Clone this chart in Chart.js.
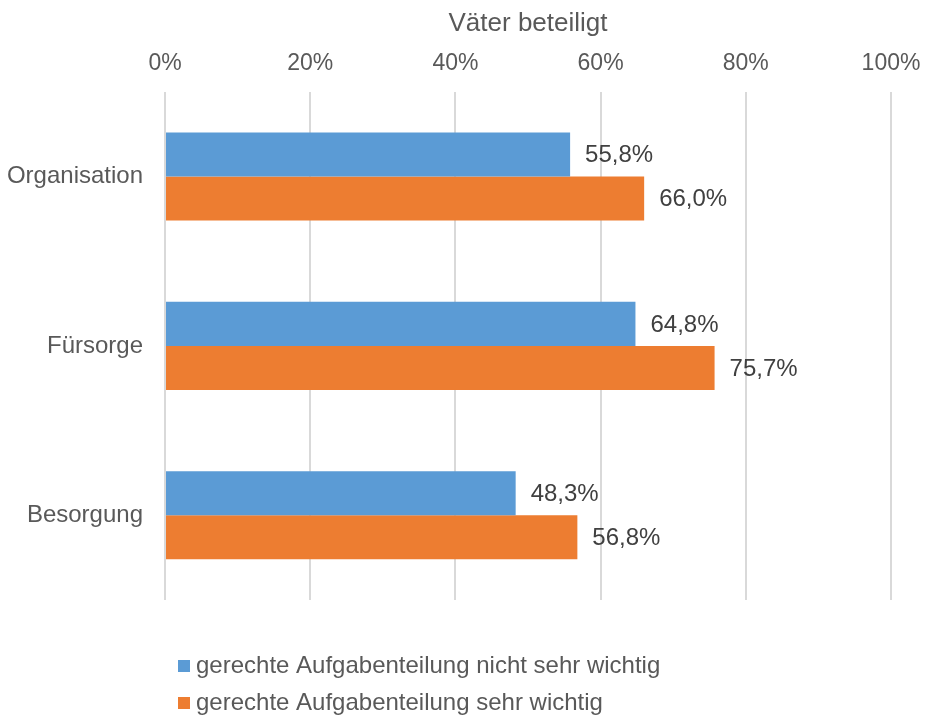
<!DOCTYPE html>
<html>
<head>
<meta charset="utf-8">
<script src="https://cdn.jsdelivr.net/npm/chart.js@4"></script>
<style>
  html, body { margin: 0; padding: 0; background: #fff; }
  #wrap { width: 925px; height: 715px; }
</style>
</head>
<body>
<div id="wrap"><canvas id="chart"></canvas></div>
<script>
// Väter beteiligt – share per category
const categories = ['Organisation', 'Fürsorge', 'Besorgung'];
const seriesNames = ['gerechte Aufgabenteilung nicht sehr wichtig', 'gerechte Aufgabenteilung sehr wichtig'];
const notVeryImportant = [55.8, 64.8, 48.3];
const veryImportant = [66.0, 75.7, 56.8];
const axisTitle = 'Väter beteiligt';

const FONT = '"Liberation Sans", Arial, sans-serif';
const fmt = v => v.toFixed(1).replace('.', ',') + '%';

// value labels next to bar ends
const valueLabels = {
  id: 'valueLabels',
  afterDatasetsDraw(chart) {
    const ctx = chart.ctx;
    ctx.save();
    ctx.font = '24px ' + FONT;
    ctx.fillStyle = '#404040';
    ctx.textAlign = 'left';
    ctx.textBaseline = 'middle';
    chart.data.datasets.forEach((ds, i) => {
      chart.getDatasetMeta(i).data.forEach((bar, j) => {
        ctx.fillText(fmt(ds.data[j]), bar.x + 15, bar.y + 1);
      });
    });
    ctx.restore();
  }
};

// stacked, left aligned legend under the plot
const stackedLegend = {
  id: 'stackedLegend',
  afterDraw(chart) {
    const ctx = chart.ctx;
    const area = chart.chartArea;
    ctx.save();
    ctx.font = '24px ' + FONT;
    ctx.textBaseline = 'middle';
    chart.data.datasets.forEach((ds, i) => {
      const y = area.bottom + 66 + i * 37;
      ctx.fillStyle = ds.backgroundColor;
      ctx.fillRect(area.left + 13, y - 6, 12, 12);
      ctx.fillStyle = '#595959';
      ctx.fillText(ds.label, area.left + 31, y);
    });
    ctx.restore();
  }
};

new Chart(document.getElementById('chart').getContext('2d'), {
  type: 'bar',
  data: {
    labels: categories,
    datasets: [
      { label: seriesNames[0], data: notVeryImportant, backgroundColor: '#5B9BD5' },
      { label: seriesNames[1], data: veryImportant, backgroundColor: '#ED7D31' }
    ]
  },
  options: {
    indexAxis: 'y',
    responsive: true,
    maintainAspectRatio: false,
    animation: false,
    layout: { padding: { top: 5, right: 34, bottom: 115, left: 8 } },
    datasets: { bar: { categoryPercentage: 0.52, barPercentage: 1 } },
    plugins: {
      legend: { display: false },
      tooltip: { enabled: false }
    },
    scales: {
      x: {
        position: 'top',
        min: 0,
        max: 100,
        afterFit: s => { s.paddingLeft = 0; s.paddingRight = 0; },
        ticks: {
          stepSize: 20,
          padding: 14,
          color: '#595959',
          font: { family: FONT, size: 23 },
          callback: v => v + '%'
        },
        grid: { color: '#d9d9d9', lineWidth: 2, drawTicks: false },
        border: { display: false },
        title: {
          display: true,
          text: axisTitle,
          color: '#595959',
          font: { family: FONT, size: 26 },
          padding: { top: 3, bottom: -3 }
        }
      },
      y: {
        afterFit: s => { s.width = 157; },
        ticks: {
          padding: 22,
          color: '#595959',
          font: { family: FONT, size: 24 }
        },
        grid: { display: false, drawTicks: false },
        border: { display: false }
      }
    }
  },
  plugins: [valueLabels, stackedLegend]
});
</script>
</body>
</html>
